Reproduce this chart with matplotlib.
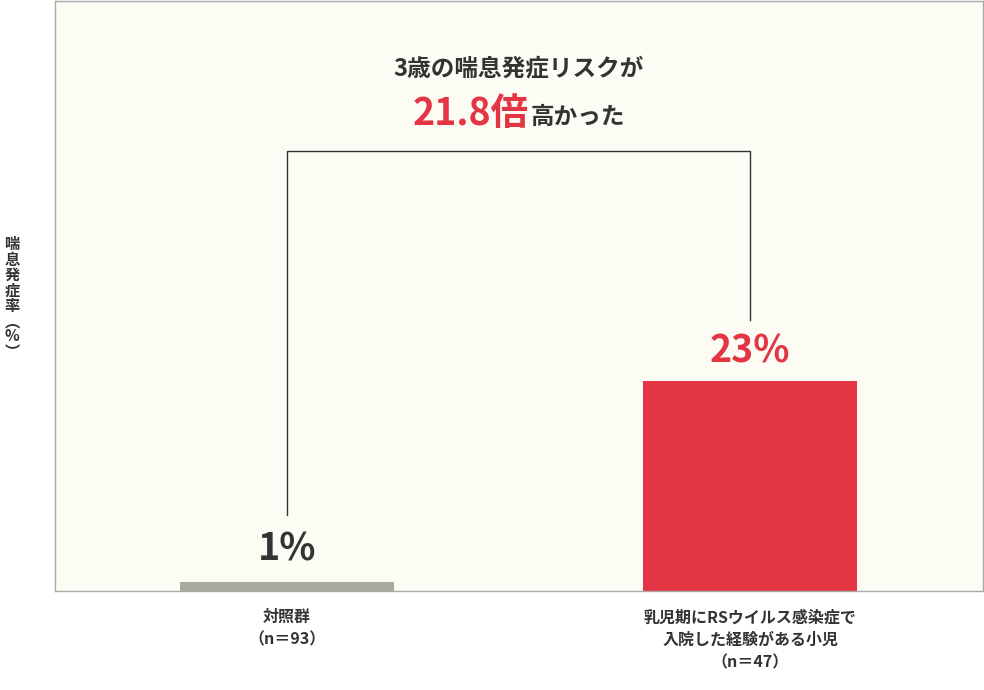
import matplotlib.pyplot as plt

plt.rcParams['font.family'] = ['Noto Sans CJK JP', 'DejaVu Sans']

groups = ['対照群\n（n＝93）', '乳児期にRSウイルス感染症で\n入院した経験がある小児\n（n＝47）']
rates = [1, 23]
value_labels = ['1%', '23%']
colors = ['#a9a9a0', '#e33544']

fig = plt.figure(figsize=(9.84, 6.90), dpi=100)
ax = fig.add_axes([55/984, 1 - 591/690, 928/984, 590/690])
ax.set_facecolor('#fdfcf4')
for s in ax.spines.values():
    s.set_color('#aaaaaa')
    s.set_linewidth(1)

x = [0, 1]
ax.bar(x, rates, width=0.462, color=colors)
ax.set_xlim(-0.501, 1.503)
ax.set_ylim(0, 64.7)
ax.set_yticks([])
ax.set_xticks([])

txt = '#333333'
ax.text(0, rates[0] + 1.5, value_labels[0], ha='center', va='bottom', fontsize=27, weight='bold', color=txt)
ax.text(1, rates[1] + 1.2, value_labels[1], ha='center', va='bottom', fontsize=27, weight='bold', color='#e33544')

# bracket
top = 48.3
ax.plot([0, 0, 1, 1], [8.3, top, top, 29.7], color='#333333', lw=1)

ax.text(0.5, 57.3, '3歳の喘息発症リスクが', ha='center', va='center', fontsize=17, weight='bold', color=txt)
ax.text(0.522, 52.4, '21.8倍', ha='right', va='center', fontsize=27, weight='bold', color='#e33544')
ax.text(0.525, 52.0, '高かった', ha='left', va='center', fontsize=17, weight='bold', color=txt)

for xi, g in zip(x, groups):
    ax.text(xi, -2, g, ha='center', va='top', fontsize=11.5, weight='bold', color=txt, linespacing=1.5)

fig.text(12/984, 1 - 298/690, '\n'.join('喘息発症率︵%︶'), ha='center', va='center',
         fontsize=11, weight='bold', color=txt, linespacing=0.95)

fig.savefig('out.png', facecolor='white')
